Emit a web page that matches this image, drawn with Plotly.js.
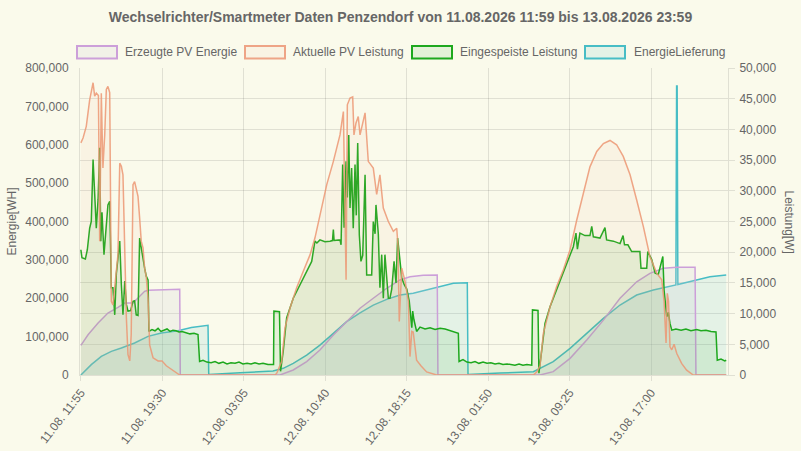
<!DOCTYPE html>
<html>
<head>
<meta charset="utf-8">
<script src="https://cdn.plot.ly/plotly-3.0.1.min.js"></script>
<style>html,body{margin:0;padding:0;background:#fafaeb;}#chart{width:801px;height:451px;}</style>
</head>
<body>
<div id="chart"></div>
<script>
// Time stamps are minutes after 11.08.2026 11:55
const START_UTC = Date.UTC(2026, 7, 11, 11, 55);

const seriesNames = ["Erzeugte PV Energie", "Aktuelle PV Leistung", "Eingespeiste Leistung", "EnergieLieferung"];

// Erzeugte PV Energie [WH]
const erzeugtMin = [0,40,96,151,207,245,291,319,356,375,470,552,555,
  1112,1186,1261,1335,1410,1484,1559,1633,1708,1782,1838,1912,1990,1994,
  2564,2638,2732,2825,2918,3011,3104,3178,3253,3328,3430,3435,3604];
const erzeugtWh = [77400,105000,135500,161600,176400,187600,187600,200700,218000,220700,222500,223300,0,
  0,13000,34700,65000,104000,139000,174000,200000,226000,247600,256000,260000,260600,0,
  0,8700,43400,91000,143000,200000,243000,265000,278000,281000,281000,0,0];

// Aktuelle PV Leistung [W]
const pvMin = [0,12,30,49,68,77,86,98,105,114,123,133,142,151,161,170,179,189,207,217,226,235,245,254,263,273,281,291,300,309,319,328,337,347,356,365,375,384,403,431,453,477,505,533,552,
  1084,1094,1121,1140,1168,1205,1242,1280,1307,1335,1373,1410,1447,1466,1481,1488,1503,1518,1525,1536,1549,1559,1587,1605,1633,1652,1670,1689,1717,1745,1764,1771,1778,1792,1810,1829,1838,1848,1856,1875,1899,1931,1987,
  2527,2546,2564,2583,2620,2657,2694,2732,2769,2806,2843,2881,2918,2955,2992,3029,3067,3104,3141,3178,3216,3244,3257,3268,3275,3282,3290,3300,3313,3328,3355,3383,3420,3604];
const pvW = [37800,38600,40500,44800,47600,45400,45900,45500,21800,45900,33700,39100,46500,47000,46000,12000,11400,14700,19600,34500,34000,32600,17400,9300,3300,2300,6600,31000,31500,30200,29100,25600,21800,20700,17400,16000,12500,4900,2800,2300,2300,1500,900,300,0,
  0,300,2200,7700,10900,14200,16900,19600,22300,26100,31000,34800,39100,42900,15500,44000,45100,45300,39100,41000,42100,39100,42700,34800,33700,29400,32600,27200,25000,23400,23900,21000,8700,17400,15300,12000,3000,7100,7000,2400,1500,500,0,
  0,500,1500,6800,11100,14400,17100,20400,25200,29600,33900,36400,37700,38200,37500,35600,32600,28500,24200,19300,16600,15500,12000,5200,13300,12000,4600,4100,5000,3500,1900,800,0,0];

// Eingespeiste Leistung [W]
const einMin = [0,6,25,36,49,58,68,77,86,96,105,111,118,129,142,151,161,170,179,189,198,207,217,226,235,245,254,263,278,291,300,309,319,328,337,347,356,365,375,380,
  397,414,431,447,464,481,498,514,531,548,565,587,609,632,654,663,
  682,704,727,749,771,794,816,838,861,883,905,928,950,972,995,1017,1045,1076,
  1078,1109,1115,1130,1149,1186,1224,1261,1289,1307,1318,1335,1363,1391,1405,1410,1414,1447,1453,1462,
  1470,1481,1488,1496,1503,1512,1521,1531,1538,1546,1555,1564,1574,1587,1596,1624,1633,1643,1648,1661,
  1670,1680,1689,1698,1708,1717,1726,1736,1749,1760,1769,1782,1792,1806,1820,1834,1848,1853,1860,1875,
  1894,1922,1950,1978,2006,2034,2061,2089,2108,2112,2134,2156,2179,2201,2223,2246,2268,2290,2313,2335,
  2357,2380,2402,2424,2447,2469,2491,2518,2522,2553,2558,2574,2592,2620,2657,2694,2732,2750,2765,2773,
  2787,2815,2843,2853,2862,2899,2927,2936,2974,3011,3028,3036,3055,3076,3122,3128,3160,3166,3188,3207,
  3225,3250,3257,3272,3281,3290,3300,3323,3352,3379,3407,3439,3463,3491,3519,3547,3554,3575,3596,3604];
const einW = [20400,19100,18900,20400,23900,25000,35100,29000,23900,28600,37000,21800,26500,19600,25000,27700,28300,14200,14200,9800,16500,19600,21800,14700,9800,15300,11500,10400,10500,12000,12100,9800,9700,22300,20700,18500,17400,16100,15500,7100,
  7400,7200,7600,7100,7300,7500,7100,7300,7200,7000,7100,6900,6700,6800,6600,2200,
  2400,2100,2000,2200,1900,2100,1800,2000,1900,2100,1800,1900,1800,2000,1800,1900,1700,1700,
  10400,10300,600,3900,9300,12500,14700,16900,18500,21800,21500,22000,21700,21800,21900,23700,21900,22000,21200,34300,
  24000,34800,28900,39100,27200,33700,23900,34300,26000,37800,22800,18500,19500,32600,16300,16300,25000,23000,27700,23000,
  14200,19600,12500,19600,15000,12500,12500,14000,18500,15000,22300,18500,15800,14700,14000,12000,7700,10400,9000,7100,
  7800,7500,7700,7400,7600,7500,7200,7000,6800,2200,2500,2100,2000,2200,1900,2100,1900,2000,1800,1900,
  1700,1800,1700,1600,1800,1600,1700,1600,10600,10500,300,4100,8400,11100,13800,16600,19300,20900,23100,20500,
  23100,22700,22700,24200,22500,22300,24000,22000,21800,21400,22700,21200,21200,20100,20100,17400,17400,20100,18800,16600,
  16400,19300,13800,9500,10200,8400,7300,7500,7300,7500,7200,7400,7200,7300,7100,7000,2400,2600,2300,2400];

// EnergieLieferung [WH]
const liefMin = [0,58,114,170,226,300,375,449,542,617,710,714,889,1073,1130,1186,1261,1335,1410,1484,
  1559,1633,1708,1782,1856,1931,2006,2080,2158,2162,2340,2527,2638,2732,2825,2918,3011,3104,3197,3290,
  3323,3327,3330,3334,3439,3513,3604];
const liefWh = [0,27000,48600,61700,70400,83400,100700,109400,115500,124000,129500,1500,6000,10400,17400,30400,52000,78000,108600,139000,
  162000,182000,197000,208500,213000,221500,230000,239000,240500,1000,5000,8700,34700,69500,108600,147700,182400,208500,221500,232000,
  234500,753000,753000,236000,247600,256000,260600];

const lineColors = ["#cc9fd9", "rgba(236,150,115,0.85)", "#1ea81e", "#47bdc5"];
const fillColors = ["rgba(205,205,215,0.2)", "rgba(240,165,135,0.08)", "rgba(35,170,35,0.1)", "rgba(70,190,198,0.12)"];
const legendLine = ["#cc9fd9", "#eea486", "#1ea81e", "#47bdc5"];

function toDate(m) {
  return new Date(START_UTC + m * 60000).toISOString().slice(0, 16).replace("T", " ");
}

const FONT = "Liberation Sans, Arial, Helvetica, sans-serif";
const GRID = "rgba(0,0,0,0.1)";

function mk(i, mins, vals, axis) {
  return {
    type: "scatter", mode: "lines", name: seriesNames[i],
    x: mins.map(toDate), y: vals, yaxis: axis,
    line: {color: lineColors[i], width: 1.5},
    fill: "tozeroy", fillcolor: fillColors[i],
    hoverinfo: "skip", showlegend: false
  };
}

const traces = [
  mk(3, liefMin, liefWh, "y"),
  mk(0, erzeugtMin, erzeugtWh, "y"),
  mk(2, einMin, einW, "y2"),
  mk(1, pvMin, pvW, "y2")
];

// plot area in pixels: left 80, right 728, top 68, bottom 375
const PL = 80, PR = 728, PT = 68, PB = 375;
const px = v => (v - PL) / (PR - PL);
const py = v => (PB - v) / (PB - PT);

const legendBoxes = [[77, 123], [245, 291], [412, 458], [585, 632]];
const shapes = [], annotations = [];
legendBoxes.forEach((b, i) => {
  shapes.push({type: "rect", xref: "paper", yref: "paper",
    x0: px(b[0]), x1: px(b[0] + 40), y0: py(58.5), y1: py(46),
    line: {color: legendLine[i], width: 2}, fillcolor: fillColors[i]});
  annotations.push({xref: "paper", yref: "paper", x: px(b[1]), y: py(52.5),
    xanchor: "left", yanchor: "middle", showarrow: false, text: seriesNames[i],
    font: {family: FONT, size: 12, color: "#666"}});
});
annotations.push({xref: "paper", yref: "paper", x: px(11), y: 0.5, xanchor: "center", yanchor: "middle",
  showarrow: false, text: "Energie[WH]", textangle: -90, font: {family: FONT, size: 12, color: "#666"}});
annotations.push({xref: "paper", yref: "paper", x: px(789), y: 0.5, xanchor: "center", yanchor: "middle",
  showarrow: false, text: "Leistung[W]", textangle: 90, font: {family: FONT, size: 12, color: "#666"}});

const layout = {
  width: 801, height: 451,
  margin: {l: PL, r: 801 - PR, t: PT, b: 451 - PB},
  paper_bgcolor: "#fafaeb", plot_bgcolor: "#fafaeb",
  font: {family: FONT, size: 12, color: "#666"},
  title: {text: "<b>Wechselrichter/Smartmeter Daten Penzendorf von 11.08.2026 11:59 bis 13.08.2026 23:59</b>",
    font: {family: FONT, size: 14, color: "#666"}, x: 0.5, xanchor: "center",
    y: 1 - 17 / 451, yanchor: "middle", yref: "container"},
  showlegend: false,
  xaxis: {type: "date", range: ["2026-08-11 11:50", "2026-08-14 00:09"],
    tick0: "2026-08-11 11:55", dtick: 455 * 60000, tickformat: "%d.%m. %H:%M",
    tickangle: -52, ticks: "outside", ticklen: 5, tickcolor: GRID,
    showgrid: true, gridcolor: GRID, showline: true, linecolor: GRID, zeroline: false,
    tickfont: {family: FONT, size: 12, color: "#666"}},
  yaxis: {range: [0, 800000], dtick: 100000, tickformat: ",d", showgrid: false,
    showline: true, linecolor: GRID, zeroline: false, ticks: "", ticklabelstandoff: 8,
    tickfont: {family: FONT, size: 12, color: "#666"}},
  yaxis2: {range: [0, 50000], dtick: 5000, tickformat: ",d", overlaying: "y", side: "right",
    showgrid: true, gridcolor: GRID, showline: true, linecolor: GRID, zeroline: false,
    ticks: "outside", ticklen: 6, tickcolor: GRID, ticklabelstandoff: 2,
    tickfont: {family: FONT, size: 12, color: "#666"}},
  shapes: shapes, annotations: annotations
};

Plotly.newPlot("chart", traces, layout, {displayModeBar: false, staticPlot: true});
</script>
</body>
</html>
